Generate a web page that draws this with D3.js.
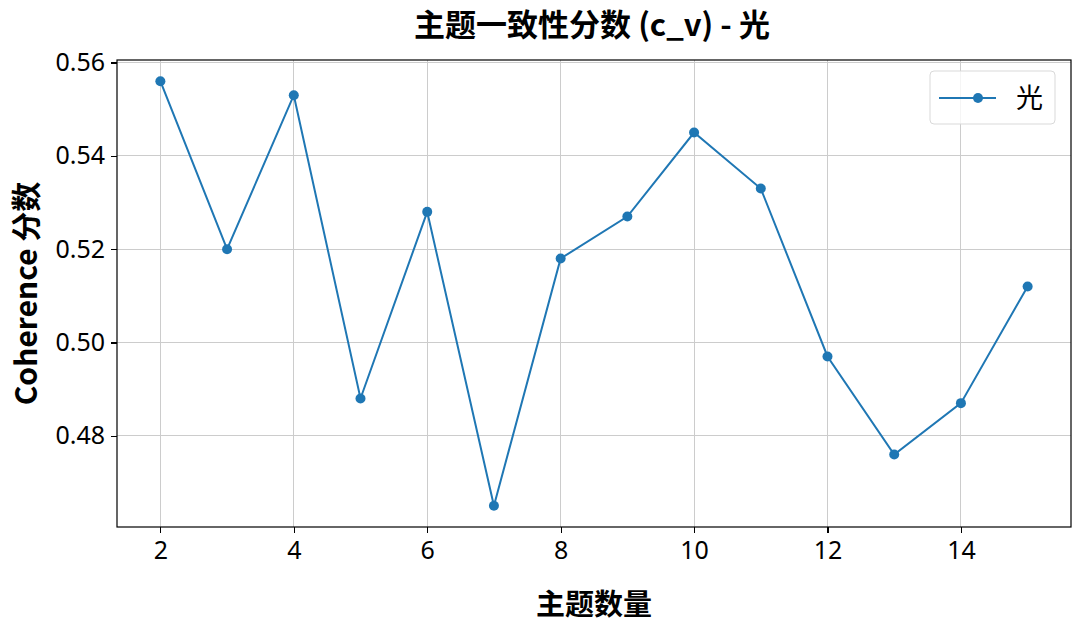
<!DOCTYPE html>
<html lang="zh">
<head>
<meta charset="UTF-8">
<title>主题一致性分数</title>
<style>
    body{margin:0;background:#fff;}
    svg text{font-family:"Noto Sans CJK SC","Noto Sans",sans-serif;fill:#000;}
    .axis text{font-family:"Noto Sans","Noto Sans CJK SC",sans-serif;}
    .axis path,.axis line{stroke:#000;stroke-width:1.2;shape-rendering:crispEdges;}
    .grid line{stroke:#cccccc;stroke-width:1;shape-rendering:crispEdges;}
</style>
<script src="https://cdn.jsdelivr.net/npm/d3@7"></script>
</head>
<body>
<script>
    // 数据
    var topics = [2,3,4,5,6,7,8,9,10,11,12,13,14,15];
    var scores = [0.556,0.520,0.553,0.488,0.528,0.465,0.518,0.527,0.545,0.533,0.497,0.476,0.487,0.512];
    var xTicks = [2,4,6,8,10,12,14];
    var yTicks = [0.48,0.50,0.52,0.54,0.56];
    var seriesName = "光";

    var width = 1075, height = 626;
    var padding = {top:60,right:4,bottom:99,left:117};
    var color = "#1f77b4";

    var svg = d3.select("body").append("svg")
        .attr("width",width).attr("height",height);

    var dataset = topics.map(function(t,i){return {x:t,y:scores[i]};});

    // 比例尺 (matplotlib 5% margins)
    var xPad = (d3.max(topics)-d3.min(topics))*0.05;
    var yPad = (d3.max(scores)-d3.min(scores))*0.05;
    var xScale = d3.scaleLinear()
        .domain([d3.min(topics)-xPad,d3.max(topics)+xPad])
        .range([padding.left,width-padding.right]);
    var yScale = d3.scaleLinear()
        .domain([d3.min(scores)-yPad,d3.max(scores)+yPad])
        .range([height-padding.bottom,padding.top]);

    // 网格
    svg.append("g").attr("class","grid")
        .selectAll("line").data(xTicks).enter().append("line")
        .attr("x1",function(d){return xScale(d);}).attr("x2",function(d){return xScale(d);})
        .attr("y1",padding.top).attr("y2",height-padding.bottom);
    svg.append("g").attr("class","grid")
        .selectAll("line").data(yTicks).enter().append("line")
        .attr("y1",function(d){return yScale(d);}).attr("y2",function(d){return yScale(d);})
        .attr("x1",padding.left).attr("x2",width-padding.right);

    // 坐标轴
    var xAxis = d3.axisBottom(xScale).tickValues(xTicks).tickSize(6).tickPadding(8).tickSizeOuter(0);
    var yAxis = d3.axisLeft(yScale).tickValues(yTicks).tickSize(6).tickPadding(6)
        .tickFormat(d3.format(".2f")).tickSizeOuter(0);

    var gx = svg.append("g").attr("class","axis")
        .attr("transform","translate(0,"+(height-padding.bottom)+")")
        .call(xAxis);
    var gy = svg.append("g").attr("class","axis")
        .attr("transform","translate("+padding.left+",0)")
        .call(yAxis);
    gx.select(".domain").remove();
    gy.select(".domain").remove();
    svg.selectAll(".axis text").style("font-size","25px");

    // 边框
    svg.append("rect")
        .attr("x",padding.left).attr("y",padding.top)
        .attr("width",width-padding.left-padding.right)
        .attr("height",height-padding.top-padding.bottom)
        .attr("fill","none").attr("stroke","#000").attr("stroke-width",1.2);

    // 折线
    var line = d3.line()
        .x(function(d){return xScale(d.x);})
        .y(function(d){return yScale(d.y);});
    svg.append("path")
        .attr("d",line(dataset))
        .attr("fill","none").attr("stroke",color).attr("stroke-width",2);

    svg.selectAll("circle.pt").data(dataset).enter().append("circle")
        .attr("class","pt")
        .attr("cx",function(d){return xScale(d.x);})
        .attr("cy",function(d){return yScale(d.y);})
        .attr("r",5).attr("fill",color);

    // 标题与轴标签
    svg.append("text").attr("x",(padding.left+width-padding.right)/2 - 2).attr("y",36)
        .attr("text-anchor","middle").style("font-size","31px").style("font-weight","bold")
        .text("主题一致性分数 (c_v) - 光");
    svg.append("text").attr("x",(padding.left+width-padding.right)/2).attr("y",615)
        .attr("text-anchor","middle").style("font-size","29px").style("font-weight","bold")
        .text("主题数量");
    svg.append("text")
        .attr("transform","translate(37,"+((padding.top+height-padding.bottom)/2)+") rotate(-90)")
        .attr("text-anchor","middle").style("font-size","30px").style("font-weight","bold")
        .text("Coherence 分数");

    // 图例
    var lg = svg.append("g").attr("transform","translate(930,71)");
    lg.append("rect").attr("width",125).attr("height",53).attr("rx",4)
        .attr("fill","#fff").attr("fill-opacity",0.8).attr("stroke","#d9d9d9");
    lg.append("line").attr("x1",9).attr("x2",66).attr("y1",27).attr("y2",27)
        .attr("stroke",color).attr("stroke-width",2);
    lg.append("circle").attr("cx",48).attr("cy",27).attr("r",5).attr("fill",color);
    lg.append("text").attr("x",86).attr("y",37).style("font-size","27px").text(seriesName);
</script>
</body>
</html>
